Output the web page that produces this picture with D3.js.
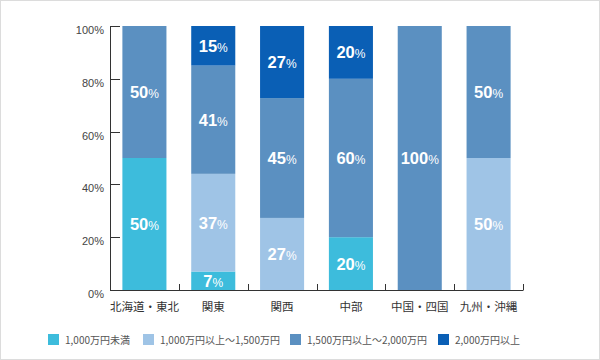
<!DOCTYPE html>
<html><head><meta charset="utf-8">
<script src="https://cdn.jsdelivr.net/npm/d3@7"></script>
<style>
html,body{margin:0;padding:0;background:#fff;}
svg{display:block;}
</style></head>
<body>
<svg id="chart" width="600" height="360"></svg>
<script>
const categories = ["北海道・東北", "関東", "関西", "中部", "中国・四国", "九州・沖縄"];
const seriesNames = ["1,000万円未満", "1,000万円以上～1,500万円", "1,500万円以上～2,000万円", "2,000万円以上"];
const under1000 = [50, 7, 0, 20, 0, 0];
const from1000to1500 = [0, 37, 27.3, 0, 0, 50];
const from1500to2000 = [50, 41, 45.4, 60, 100, 50];
const over2000 = [0, 15, 27.3, 20, 0, 0];
const yTicks = [0, 20, 40, 60, 80, 100];

(function () {
const colors = ["#3dbcdc", "#9fc4e6", "#5b90c1", "#0a5fb5"];
const seriesValues = [under1000, from1000to1500, from1500to2000, over2000];

const svg = d3.select("#chart");
svg.append("rect").attr("x", 0.5).attr("y", 0.5).attr("width", 599).attr("height", 359)
  .attr("fill", "#fff").attr("stroke", "#dcdcdc");

const pLeft = 110, pRight = 523, pTop = 26, pBottom = 290;
const x = d3.scaleBand().domain(categories).range([pLeft, pRight]).paddingInner(0.36).paddingOuter(0.18);
const y = d3.scaleLinear().domain([0, 100]).range([pBottom, pTop]);

const rows = categories.map((c, i) => {
  const r = {cat: c};
  seriesNames.forEach((s, j) => r[s] = seriesValues[j][i]);
  return r;
});
const stack = d3.stack().keys(seriesNames)(rows);

const g = svg.append("g");
stack.forEach((layer, j) => {
  layer.forEach((d, i) => {
    if (d[1] - d[0] <= 0) return;
    g.append("rect")
      .attr("x", x(categories[i]))
      .attr("width", x.bandwidth())
      .attr("y", y(Math.min(d[1], 100)))
      .attr("height", y(d[0]) - y(Math.min(d[1], 100)))
      .attr("fill", colors[j]);
  });
});
stack.forEach((layer, j) => {
  layer.forEach((d, i) => {
    const v = d[1] - d[0];
    if (v <= 0) return;
    const cy = (y(d[0]) + y(Math.min(d[1], 100))) / 2;
    const t = g.append("text")
      .attr("x", x(categories[i]) + x.bandwidth() / 2)
      .attr("y", cy + 6)
      .attr("text-anchor", "middle")
      .attr("fill", "#fff")
      .attr("font-family", "Liberation Sans, Arial, sans-serif")
      .attr("font-weight", "bold")
      .attr("font-size", 16.5);
    t.append("tspan").text(Math.round(v));
    t.append("tspan").attr("font-size", 12).attr("font-weight", "normal").text("%");
  });
});

const yAxis = svg.append("g");
yAxis.append("line").attr("x1", pLeft + 0.5).attr("x2", pLeft + 0.5).attr("y1", pTop).attr("y2", pBottom)
  .attr("stroke", "#333");
yTicks.forEach(t => {
  yAxis.append("line").attr("x1", pLeft).attr("x2", pLeft + 10)
    .attr("y1", Math.round(y(t)) + 0.5).attr("y2", Math.round(y(t)) + 0.5).attr("stroke", "#333");
  yAxis.append("text").attr("x", 104).attr("y", y(t) + 8)
    .attr("text-anchor", "end").attr("fill", "#444")
    .attr("font-family", "Liberation Sans, Arial, sans-serif").attr("font-size", 11)
    .text(t + "%");
});
const xAxis = svg.append("g");
xAxis.append("line").attr("x1", pLeft).attr("x2", pRight + 0.5).attr("y1", pBottom + 0.5).attr("y2", pBottom + 0.5)
  .attr("stroke", "#333");
categories.forEach((c, i) => {
  const bx = Math.round(x(c) - x.step() * x.paddingOuter() + x.step()) + 0.5;
  xAxis.append("line").attr("x1", bx).attr("x2", bx).attr("y1", pBottom - 6).attr("y2", pBottom)
    .attr("stroke", "#333");
  xAxis.append("text").attr("x", x(c) + x.bandwidth() / 2).attr("y", 311)
    .attr("text-anchor", "middle").attr("fill", "#333")
    .attr("font-family", "Noto Sans CJK JP, sans-serif").attr("font-size", 11.5)
    .text(c);
});

const legendX = [48, 143, 290, 438];
seriesNames.forEach((s, j) => {
  svg.append("rect").attr("x", legendX[j]).attr("y", 334).attr("width", 11).attr("height", 11)
    .attr("fill", colors[j]);
  svg.append("text").attr("x", legendX[j] + 17).attr("y", 344)
    .attr("fill", "#555").attr("font-family", "Noto Sans CJK JP, sans-serif").attr("font-size", 10)
    .text(s);
});
})();
</script>
</body></html>
